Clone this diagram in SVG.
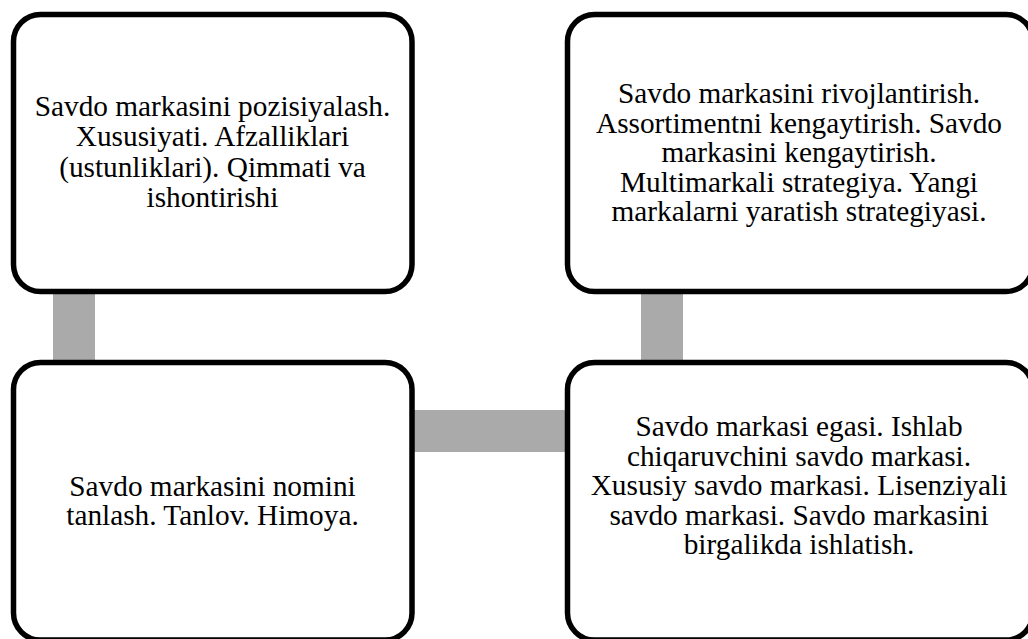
<svg xmlns="http://www.w3.org/2000/svg" width="1028" height="639" viewBox="0 0 1028 639">
<style>
.box{fill:#FFFFFF;stroke:#000000;stroke-width:5.5}
.conn{fill:#AAAAAA;stroke:none}
.t{font-family:"Liberation Serif","Times New Roman",serif;font-size:29.3px;fill:#000000;text-anchor:middle}
</style>
<rect x="0" y="0" width="1028" height="639" fill="#FFFFFF"/>
<g id="connectors">
<rect class="conn" x="53" y="291" width="42" height="72"/>
<rect class="conn" x="641" y="291" width="42" height="72"/>
<rect class="conn" x="412" y="410" width="156" height="42"/>
</g>
<g id="node-top-left">
<rect class="box" x="13.5" y="14.5" width="398.5" height="277" rx="27" ry="27"/>
<text class="t" x="212.5" y="116">Savdo markasini pozisiyalash.</text>
<text class="t" x="212.5" y="146.3">Xususiyati. Afzalliklari</text>
<text class="t" x="212.5" y="176.6">(ustunliklari). Qimmati va</text>
<text class="t" x="212.5" y="206.9">ishontirishi</text>
</g>
<g id="node-top-right">
<rect class="box" x="567.5" y="14.5" width="465.5" height="277" rx="27" ry="27"/>
<text class="t" x="799" y="103.3">Savdo markasini rivojlantirish.</text>
<text class="t" x="799" y="132.8">Assortimentni kengaytirish. Savdo</text>
<text class="t" x="799" y="162.3">markasini kengaytirish.</text>
<text class="t" x="799" y="191.8">Multimarkali strategiya. Yangi</text>
<text class="t" x="799" y="221.3">markalarni yaratish strategiyasi.</text>
</g>
<g id="node-bottom-left">
<rect class="box" x="13.5" y="362.5" width="398.5" height="277.5" rx="27" ry="27"/>
<text class="t" x="212.5" y="495.5">Savdo markasini nomini</text>
<text class="t" x="212.5" y="525">tanlash. Tanlov. Himoya.</text>
</g>
<g id="node-bottom-right">
<rect class="box" x="567.5" y="362.5" width="465.5" height="277.5" rx="27" ry="27"/>
<text class="t" x="799" y="436">Savdo markasi egasi. Ishlab</text>
<text class="t" x="799" y="465.5">chiqaruvchini savdo markasi.</text>
<text class="t" x="799" y="495">Xususiy savdo markasi. Lisenziyali</text>
<text class="t" x="799" y="524.5">savdo markasi. Savdo markasini</text>
<text class="t" x="799" y="554">birgalikda ishlatish.</text>
</g>
</svg>
